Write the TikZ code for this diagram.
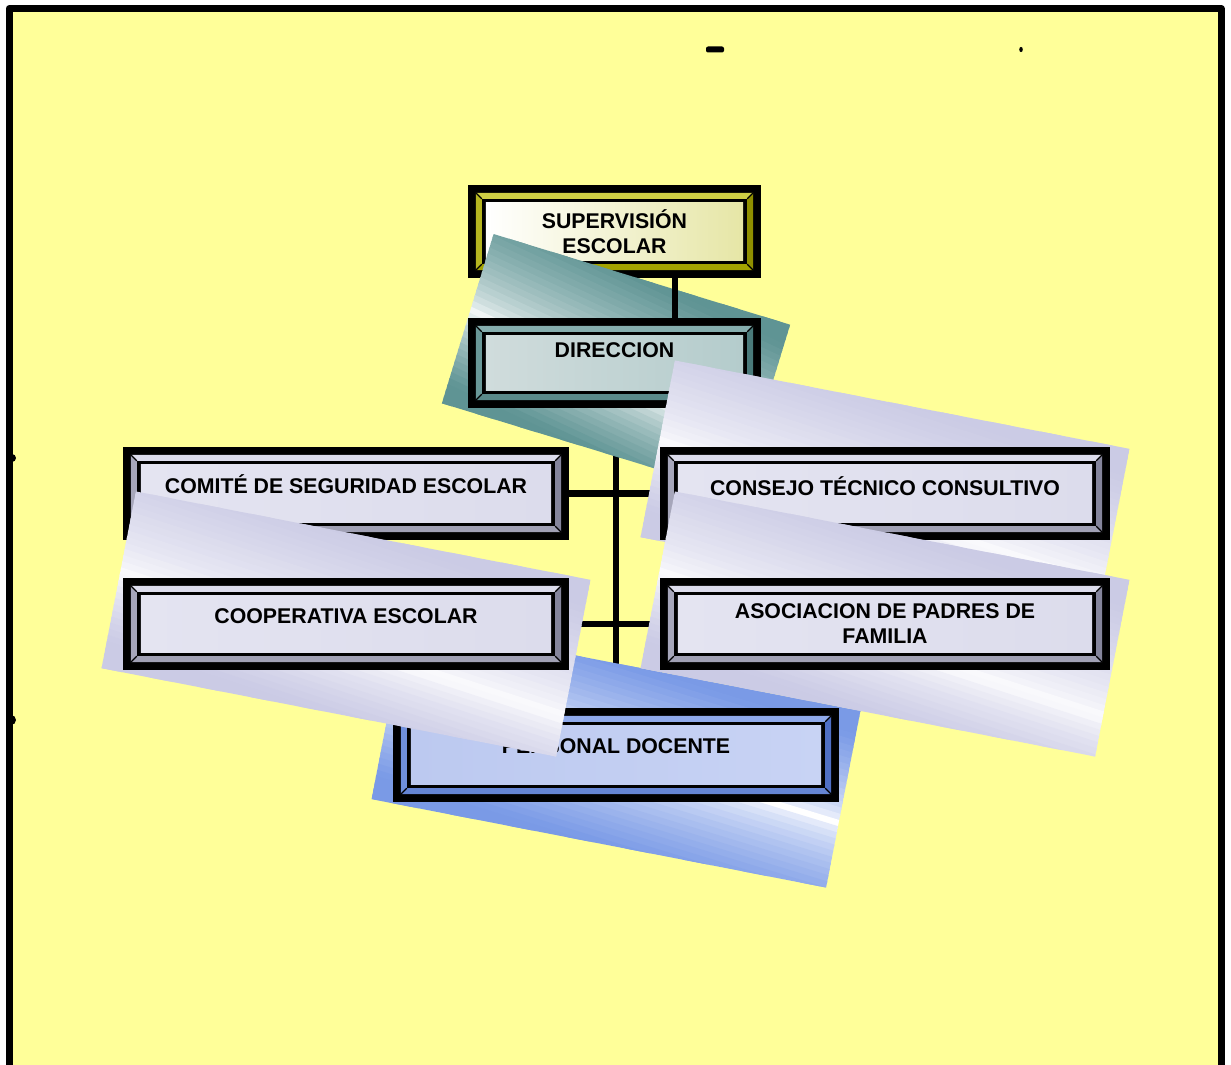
\documentclass[tikz,border=0pt]{standalone}
\usepackage{fontspec}
\setmainfont{Liberation Sans}
\usetikzlibrary{calc}
\pgfdeclarelayer{bg}
\pgfdeclarelayer{conn}
\pgfsetlayers{bg,conn,main}
\definecolor{bgyellow}{HTML}{FFFF99}
% supervision
\definecolor{supT}{HTML}{CFCF45}\definecolor{supL}{HTML}{B5B520}\definecolor{supR}{HTML}{8F8F00}\definecolor{supB}{HTML}{A3A300}
\definecolor{supFL}{HTML}{FFFFFF}\definecolor{supFM}{HTML}{FAFAE0}\definecolor{supFR}{HTML}{E6E6A6}
% direccion
\definecolor{dirT}{HTML}{86AEAE}\definecolor{dirL}{HTML}{6A9898}\definecolor{dirR}{HTML}{4A7A7A}\definecolor{dirB}{HTML}{5A8A8A}
\definecolor{dirFL}{HTML}{D0DCDC}\definecolor{dirFM}{HTML}{F2F5F5}\definecolor{dirFR}{HTML}{B4CCCC}
% lavender
\definecolor{lavT}{HTML}{DCDCEC}\definecolor{lavL}{HTML}{A6A6BA}\definecolor{lavR}{HTML}{85859C}\definecolor{lavB}{HTML}{A0A0B4}
\definecolor{lavFL}{HTML}{E4E4F1}\definecolor{lavFM}{HTML}{FFFFFF}\definecolor{lavFR}{HTML}{DCDCEC}
% blue
\definecolor{bluT}{HTML}{90AAEA}\definecolor{bluL}{HTML}{7090DC}\definecolor{bluR}{HTML}{4F6FC4}\definecolor{bluB}{HTML}{6585D4}
\definecolor{bluFL}{HTML}{BCC9F0}\definecolor{bluFM}{HTML}{F0F3FC}\definecolor{bluFR}{HTML}{C8D3F4}
% slabs
\definecolor{slabTeal}{HTML}{5F9494}
\definecolor{slabLav}{HTML}{CBCBE5}
\definecolor{slabBlue}{HTML}{7A9AE6}

\newcommand\bvcols[1]{%
  \colorlet{bvT}{#1T}\colorlet{bvL}{#1L}\colorlet{bvR}{#1R}\colorlet{bvB}{#1B}%
  \colorlet{bvFL}{#1FL}\colorlet{bvFM}{#1FM}\colorlet{bvFR}{#1FR}}

\newcommand\bvbox[5]{%
  \node[boxbase, minimum width=#4pt, minimum height=#5pt] (#1) at (#2,#3) {};
  \fill[bvT] let \p1=(#1.south west), \p2=(#1.north east) in
    (\x1+8pt,\y2-8pt) -- (\x2-8pt,\y2-8pt) -- (\x2-14pt,\y2-14pt) -- (\x1+14pt,\y2-14pt) -- cycle;
  \fill[bvL] let \p1=(#1.south west), \p2=(#1.north east) in
    (\x1+8pt,\y2-8pt) -- (\x1+14pt,\y2-14pt) -- (\x1+14pt,\y1+14pt) -- (\x1+8pt,\y1+8pt) -- cycle;
  \fill[bvR] let \p1=(#1.south west), \p2=(#1.north east) in
    (\x2-8pt,\y2-8pt) -- (\x2-8pt,\y1+8pt) -- (\x2-14pt,\y1+14pt) -- (\x2-14pt,\y2-14pt) -- cycle;
  \fill[bvB] let \p1=(#1.south west), \p2=(#1.north east) in
    (\x1+8pt,\y1+8pt) -- (\x2-8pt,\y1+8pt) -- (\x2-14pt,\y1+14pt) -- (\x1+14pt,\y1+14pt) -- cycle;
  \draw[line width=1.3pt] let \p1=(#1.south west), \p2=(#1.north east) in
    (\x1+8pt,\y2-8pt) -- (\x1+14pt,\y2-14pt) (\x2-8pt,\y2-8pt) -- (\x2-14pt,\y2-14pt)
    (\x1+8pt,\y1+8pt) -- (\x1+14pt,\y1+14pt) (\x2-8pt,\y1+8pt) -- (\x2-14pt,\y1+14pt);
  \shade[left color=bvFL, middle color=bvFM, right color=bvFR] let \p1=(#1.south west), \p2=(#1.north east) in
    (\x1+18pt,\y1+18pt) rectangle (\x2-18pt,\y2-18pt);
}

% slab: cx, cy, angle, w, h, colour, tilt, band centre (fraction from top)
\newcommand\slab[8]{%
  \begin{scope}[shift={(#1,#2)}, rotate=#3]
    \clip (-#4/2,-#5/2) rectangle (#4/2,#5/2);
    \begin{scope}[rotate=#7]
      \foreach \i in {0,...,44} {
        \pgfmathsetmacro\sfr{((\i+0.5)*(#5+100)/45 - 50)/#5}
        \pgfmathsetmacro\dd{max(0,min(1,(\sfr<#8 ? (#8-\sfr)/#8 : (\sfr-#8)/(1-#8))))}
        \pgfmathsetmacro\pct{100*(\dd)^0.6}
        \fill[#6!\pct!white] (-#4,{-#5/2-50+\i*(#5+100)/45}) rectangle (#4,{-#5/2-50+(\i+1.4)*(#5+100)/45});
      }
    \end{scope}
  \end{scope}}

\begin{document}
\begin{tikzpicture}[x=1pt,y=-1pt,
  conn/.style={line width=6.5pt, black},
  lbl/.style={font=\bfseries\fontsize{21.3}{25}\selectfont, align=center, inner sep=0pt, text=black},
  boxbase/.style={rectangle, fill=black, draw=none, inner sep=0pt}]

\useasboundingbox (0,0) rectangle (1231,1065);

\begin{pgfonlayer}{bg}
  \fill[white] (0,0) rectangle (1231,1065);
  \fill[bgyellow] (9,8) rectangle (1221,1065);
  \draw[line width=7pt, line join=round] (9,1075) -- (9,8.5) -- (1221,8.5) -- (1221,1075);
  \fill[rounded corners=2pt] (706,46.5) rectangle (724,52.5);
  \fill (1021,49.5) ellipse [x radius=1.8, y radius=2.6];
  \fill (12,458) circle [radius=4];
  \fill (11,720) circle [radius=5];
\end{pgfonlayer}

\coordinate (tk) at (616,0);
\coordinate (sd) at (675,0);

% SUPERVISION
\bvcols{sup}
\bvbox{sup}{614.5}{231.5}{293}{93}
\node[lbl] (supT) at (sup.center) {SUPERVISIÓN\\ESCOLAR};

% DIRECCION
\slab{616}{364}{-17}{310}{177}{slabTeal}{-8}{0.58}
\bvcols{dir}
\bvbox{dir}{614.5}{363}{293}{90}
\node[lbl] (dirT) at ([yshift=13pt]dir.center) {DIRECCION};

% COMITE
\bvcols{lav}
\bvbox{com}{346}{493.5}{446}{93}
\node[lbl] (comT) at ([yshift=9.5pt]com.center) {COMITÉ DE SEGURIDAD ESCOLAR};

% CONSEJO
\slab{885}{493}{-11}{463}{180}{slabLav}{-7}{0.62}
\bvcols{lav}
\bvbox{con}{885}{493.5}{450}{93}
\node[lbl] (conT) at ([yshift=7pt]con.center) {CONSEJO TÉCNICO CONSULTIVO};

% PERSONAL
\slab{616}{755}{-11}{463}{180}{slabBlue}{-6}{0.5}
\bvcols{blu}
\bvbox{per}{616}{755}{446}{94}
\node[lbl] (perT) at ([yshift=9pt]per.center) {PERSONAL DOCENTE};

% ASOCIACION
\slab{885}{624}{-11}{463}{180}{slabLav}{-7}{0.62}
\bvcols{lav}
\bvbox{aso}{885}{624}{450}{92}
\node[lbl] (asoT) at (aso.center) {ASOCIACION DE PADRES DE\\FAMILIA};

% COOPERATIVA
\slab{346}{624}{-11}{463}{180}{slabLav}{-7}{0.62}
\bvcols{lav}
\bvbox{coo}{346}{624}{446}{92}
\node[lbl] (cooT) at ([yshift=8pt]coo.center) {COOPERATIVA ESCOLAR};

% connectors
\begin{pgfonlayer}{conn}
  \draw[conn] (dir.south -| tk) -- (per.north -| tk);
  \draw[conn] (com.east) -- (con.west);
  \draw[conn] (coo.east) -- (aso.west);
\end{pgfonlayer}
\draw[conn] (sup.south -| sd) -- (dir.north -| sd);

\end{tikzpicture}
\end{document}
